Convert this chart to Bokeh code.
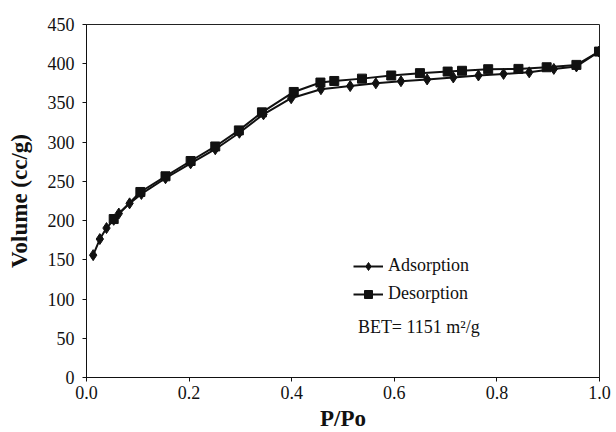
from bokeh.plotting import figure
from bokeh.models import FixedTicker, PrintfTickFormatter, Legend, LegendItem, Label, Range1d
from bokeh.embed import file_html
from bokeh.resources import INLINE

# Adsorption branch (diamonds)
ads_x = [0.013, 0.026, 0.039, 0.053, 0.063, 0.084, 0.107, 0.154, 0.203, 0.251, 0.298, 0.345,
         0.399, 0.457, 0.514, 0.564, 0.613, 0.664, 0.715, 0.764, 0.813, 0.863, 0.911, 0.955, 0.999]
ads_v = [156, 176.5, 190.5, 201, 209, 222, 234, 254, 273, 291, 312, 335.5,
         356, 367.5, 371.5, 375, 377.7, 380, 382.5, 385, 387, 389, 393.4, 396.5, 415.5]

# Desorption branch (squares)
des_x = [0.999, 0.955, 0.897, 0.842, 0.783, 0.732, 0.704, 0.650, 0.594, 0.537, 0.483,
         0.456, 0.404, 0.342, 0.297, 0.251, 0.203, 0.154, 0.105, 0.053]
des_v = [415.5, 398.5, 395.5, 393.4, 393, 391, 390, 388, 385, 381, 378,
         376, 364, 338, 315, 294.5, 276, 256.5, 236.5, 202]

x_ticks = [0.0, 0.2, 0.4, 0.6, 0.8, 1.0]
y_ticks = [0, 50, 100, 150, 200, 250, 300, 350, 400, 450]

SERIF = "Liberation Serif"
INK = "#111111"

p = figure(frame_width=513, frame_height=353, output_backend="svg", toolbar_location=None,
           x_range=Range1d(0, 1), y_range=Range1d(0, 450),
           min_border_left=86, min_border_right=17, min_border_top=24, min_border_bottom=55)
p.xgrid.visible = False
p.ygrid.visible = False
p.outline_line_color = "#222222"
p.outline_line_width = 1
p.background_fill_color = "white"
p.border_fill_color = "white"

p.xaxis.ticker = FixedTicker(ticks=x_ticks)
p.yaxis.ticker = FixedTicker(ticks=y_ticks)
p.xaxis.formatter = PrintfTickFormatter(format="%.1f")
for ax in (p.xaxis[0], p.yaxis[0]):
    ax.minor_tick_line_color = None
    ax.major_tick_in = 0
    ax.major_tick_out = 4
    ax.major_tick_line_color = INK
    ax.axis_line_color = INK
    ax.axis_line_width = 1
    ax.major_label_text_font = SERIF
    ax.major_label_text_font_size = "18px"
    ax.major_label_text_color = INK
    ax.axis_label_text_font = SERIF
    ax.axis_label_text_font_style = "bold"
    ax.axis_label_text_font_size = "23px"
    ax.axis_label_text_color = INK
p.xaxis.major_label_standoff = 4
p.yaxis.major_label_standoff = 8
p.xaxis.axis_label = "P/Po"
p.yaxis.axis_label = "Volume (cc/g)"
p.xaxis.axis_label_standoff = 4
p.yaxis.axis_label_standoff = 13

l1 = p.line(ads_x, ads_v, line_color=INK, line_width=2)
m1 = p.scatter(ads_x, ads_v, marker="diamond", size=11, fill_color=INK, line_color=INK)
l2 = p.line(des_x, des_v, line_color=INK, line_width=2)
m2 = p.scatter(des_x, des_v, marker="square", size=9, fill_color=INK, line_color=INK)

legend = Legend(items=[LegendItem(label="Adsorption", renderers=[l1, m1]),
                       LegendItem(label="Desorption", renderers=[l2, m2])],
                location=(267, 73), padding=0, margin=0, spacing=7,
                glyph_width=30, glyph_height=20, label_standoff=5,
                label_text_font=SERIF, label_text_font_size="18px",
                label_text_color=INK, border_line_color=None,
                background_fill_alpha=0)
p.add_layout(legend)

p.add_layout(Label(x=0.529, y=64.7, text="BET= 1151 m²/g", text_font=SERIF,
                   text_font_size="18px", text_color=INK, text_baseline="middle"))

open("out.html", "w").write(file_html(p, INLINE))
